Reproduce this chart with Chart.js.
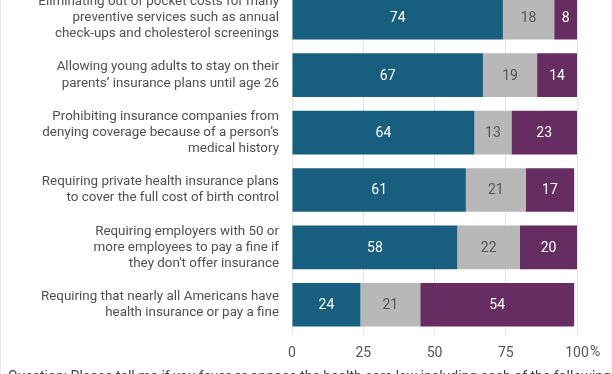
<!DOCTYPE html>
<html>
<head>
<meta charset="utf-8">
<script src="https://cdn.jsdelivr.net/npm/chart.js@4/dist/chart.umd.min.js"></script>
<style>
  html, body { margin: 0; padding: 0; background: #fff; }
  body { width: 612px; height: 374px; overflow: hidden; position: relative; font-family: Roboto, sans-serif; }
  #wrap { position: absolute; left: 0; top: -40px; width: 612px; height: 420px; }
  #note { position: absolute; left: 8px; top: 368px; font-size: 14px; line-height: 16px; color: #444; white-space: nowrap; }
  #frame { position: absolute; left: 0; top: 0; width: 610px; height: 374px; border-left: 1px solid #ececec; border-right: 1px solid #ececec; }
</style>
</head>
<body>
<div id="wrap"><canvas id="chart"></canvas></div>
<div id="note">Question: Please tell me if you favor or oppose the health care law including each of the following</div>
<div id="frame"></div>
<script>
// provisions, top to bottom
var provisions = [
    ["Eliminating out of pocket costs for many", "preventive services such as annual", "check-ups and cholesterol screenings"],
    ["Allowing young adults to stay on their", "parents\u2019 insurance plans until age 26"],
    ["Prohibiting insurance companies from", "denying coverage because of a person\u2019s", "medical history"],
    ["Requiring private health insurance plans", "to cover the full cost of birth control"],
    ["Requiring employers with 50 or", "more employees to pay a fine if", "they don't offer insurance"],
    ["Requiring that nearly all Americans have", "health insurance or pay a fine"]
];
var favor = [74, 67, 64, 61, 58, 24];
var dontKnow = [18, 19, 13, 21, 22, 21];
var oppose = [8, 14, 23, 17, 20, 54];
var xTicks = [0, 25, 50, 75, 100];

/* ======= value labels inside the bars ======= */
var barLabels = {
    id: 'barLabels',
    afterDatasetsDraw: function(chart) {
        var ctx = chart.ctx;
        ctx.save();
        ctx.font = '14px Roboto';
        ctx.textAlign = 'center';
        ctx.textBaseline = 'middle';
        chart.data.datasets.forEach(function(ds, i) {
            chart.getDatasetMeta(i).data.forEach(function(bar, j) {
                var c = bar.getCenterPoint();
                ctx.fillStyle = ds.labelColor;
                ctx.fillText(ds.data[j], c.x, c.y + 1);
            });
        });
        ctx.restore();
    }
};

/* ======= percent sign after the 100 tick ======= */
var percentSign = {
    id: 'percentSign',
    afterDraw: function(chart) {
        var ctx = chart.ctx;
        var x = chart.scales.x.getPixelForValue(100);
        ctx.save();
        ctx.font = '14px Roboto';
        ctx.fillStyle = '#555';
        ctx.textAlign = 'left';
        ctx.textBaseline = 'middle';
        ctx.fillText('%', x + 13, 392);
        ctx.restore();
    }
};

var ctx = document.getElementById('chart');

var graph = new Chart(ctx, {
    type: 'bar',
    data: {
        labels: provisions,
        datasets: [{
            label: 'Favor',
            data: favor,
            backgroundColor: '#185e7e',
            labelColor: '#ffffff'
        },
        {
            label: "Don't know",
            data: dontKnow,
            backgroundColor: '#b8b8b8',
            labelColor: '#555555'
        },
        {
            label: 'Oppose',
            data: oppose,
            backgroundColor: '#652d62',
            labelColor: '#ffffff'
        }]
    },
    options: {
        indexAxis: 'y',
        responsive: true,
        maintainAspectRatio: false,
        animation: false,
        datasets: {
            bar: { barPercentage: 0.76, categoryPercentage: 1, borderWidth: 0 }
        },
        layout: { padding: { top: 25.5, bottom: 12.5, left: 0, right: 35 } },
        plugins: {
            legend: { display: false },
            tooltip: { enabled: false }
        },
        scales: {
            x: {
                stacked: true,
                min: 0,
                max: 100,
                afterBuildTicks: function(scale) {
                    scale.ticks = xTicks.map(function(v) { return { value: v }; });
                },
                afterFit: function(scale) { scale.height = 34; },
                grid: { color: '#e4e4e4', drawTicks: false },
                border: { display: false },
                ticks: {
                    padding: 12,
                    color: '#555',
                    font: { family: 'Roboto', size: 14 }
                }
            },
            y: {
                stacked: true,
                afterFit: function(scale) { scale.width = 292; },
                grid: { display: false, drawTicks: false },
                border: { color: '#e4e4e4' },
                ticks: {
                    padding: 13,
                    color: '#505050',
                    font: { family: 'Roboto', size: 13.4, lineHeight: 1.2 }
                }
            }
        }
    },
    plugins: [barLabels, percentSign]
});
</script>
</body>
</html>
